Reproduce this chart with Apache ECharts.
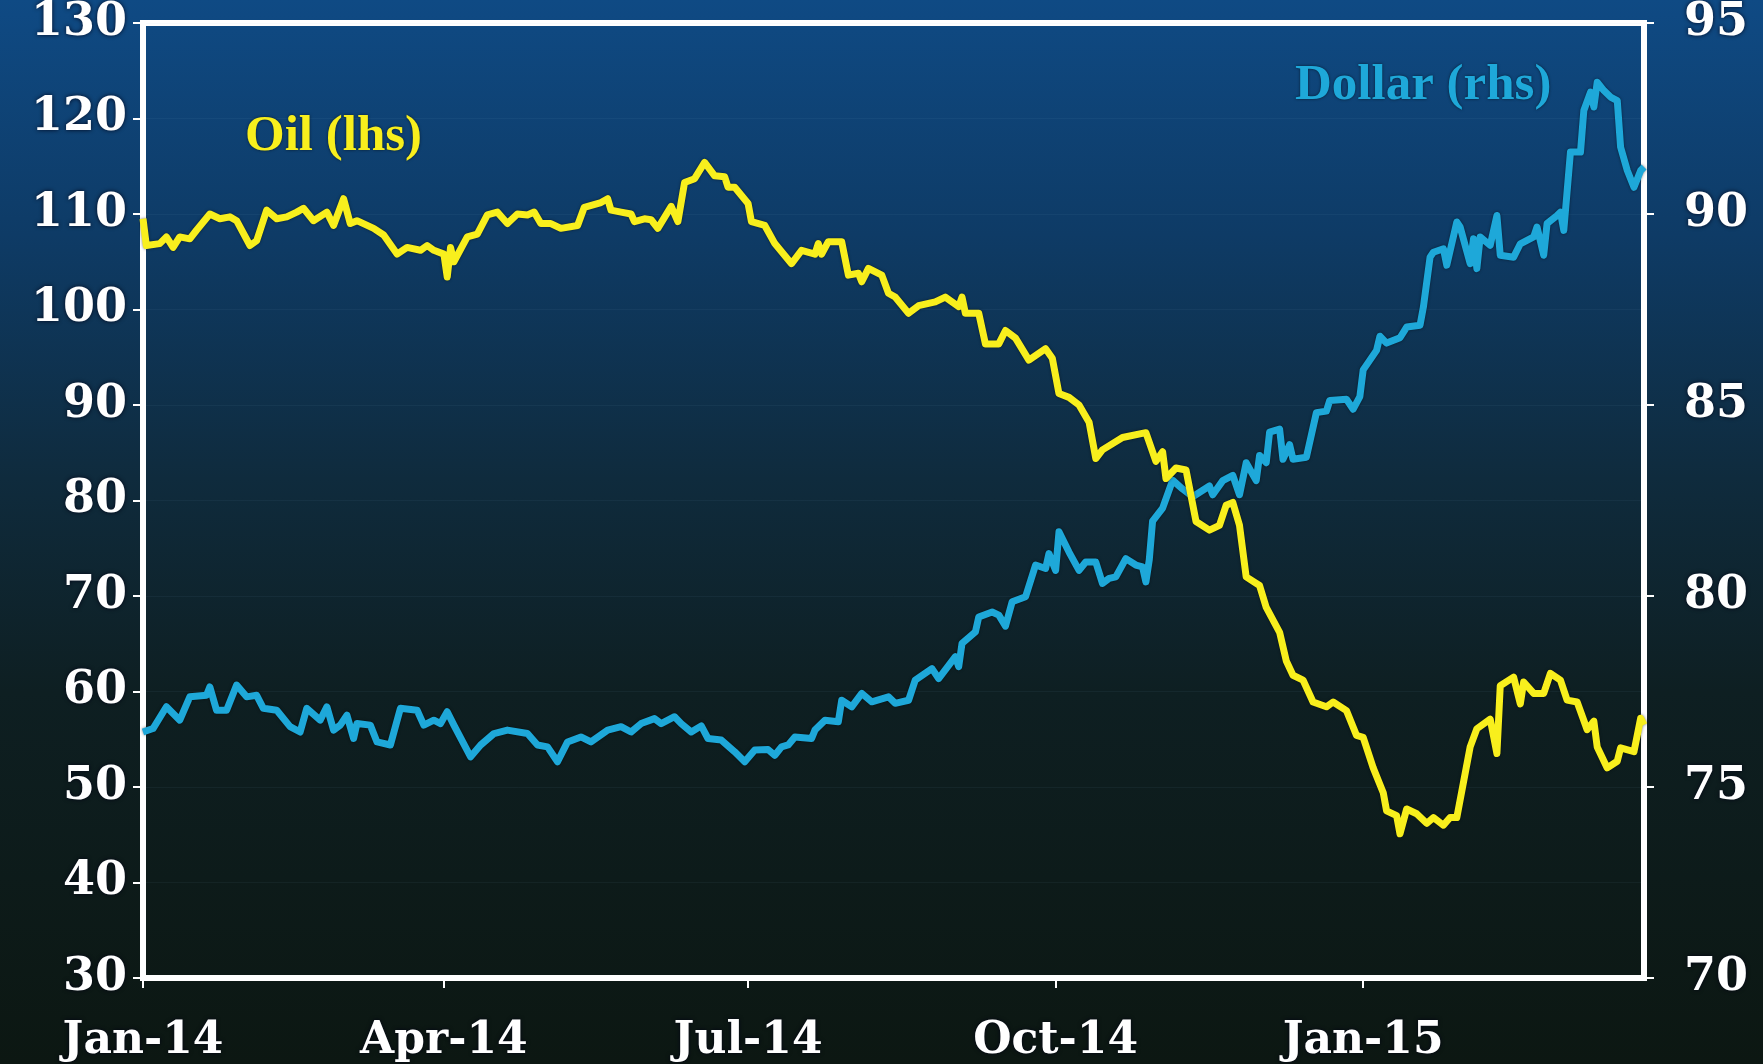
<!DOCTYPE html>
<html>
<head>
<meta charset="utf-8">
<script src="https://cdn.jsdelivr.net/npm/echarts@6/dist/echarts.min.js"></script>
<style>
html,body{margin:0;padding:0;background:#0c1712;}
#chart{width:1763px;height:1064px;}
</style>
</head>
<body>
<div id="chart"></div>
<script>
// ---- Data ----
const oilDates = ['2014-01-01','2014-01-02','2014-01-06','2014-01-08','2014-01-10','2014-01-12','2014-01-15','2014-01-17','2014-01-21','2014-01-24','2014-01-27','2014-01-29','2014-02-02','2014-02-04','2014-02-07','2014-02-10','2014-02-13','2014-02-16','2014-02-18','2014-02-21','2014-02-25','2014-02-27','2014-03-02','2014-03-04','2014-03-06','2014-03-11','2014-03-14','2014-03-18','2014-03-21','2014-03-25','2014-03-27','2014-03-29','2014-04-01','2014-04-02','2014-04-03','2014-04-04','2014-04-08','2014-04-11','2014-04-14','2014-04-17','2014-04-20','2014-04-23','2014-04-26','2014-04-28','2014-04-30','2014-05-03','2014-05-06','2014-05-11','2014-05-13','2014-05-18','2014-05-20','2014-05-21','2014-05-24','2014-05-27','2014-05-28','2014-05-31','2014-06-02','2014-06-04','2014-06-08','2014-06-10','2014-06-12','2014-06-15','2014-06-18','2014-06-21','2014-06-24','2014-06-25','2014-06-27','2014-07-01','2014-07-02','2014-07-06','2014-07-09','2014-07-14','2014-07-17','2014-07-21','2014-07-22','2014-07-23','2014-07-25','2014-07-29','2014-07-31','2014-08-03','2014-08-04','2014-08-06','2014-08-10','2014-08-12','2014-08-14','2014-08-18','2014-08-21','2014-08-26','2014-08-29','2014-09-02','2014-09-03','2014-09-04','2014-09-08','2014-09-10','2014-09-14','2014-09-16','2014-09-19','2014-09-23','2014-09-28','2014-09-30','2014-10-02','2014-10-05','2014-10-08','2014-10-11','2014-10-13','2014-10-15','2014-10-21','2014-10-28','2014-10-31','2014-11-02','2014-11-03','2014-11-06','2014-11-09','2014-11-12','2014-11-16','2014-11-19','2014-11-21','2014-11-23','2014-11-25','2014-11-27','2014-12-01','2014-12-03','2014-12-07','2014-12-09','2014-12-11','2014-12-14','2014-12-17','2014-12-21','2014-12-23','2014-12-27','2014-12-30','2015-01-01','2015-01-04','2015-01-07','2015-01-08','2015-01-11','2015-01-12','2015-01-14','2015-01-17','2015-01-20','2015-01-22','2015-01-25','2015-01-27','2015-01-29','2015-02-02','2015-02-04','2015-02-08','2015-02-10','2015-02-11','2015-02-15','2015-02-17','2015-02-18','2015-02-21','2015-02-24','2015-02-26','2015-03-01','2015-03-03','2015-03-06','2015-03-09','2015-03-11','2015-03-12','2015-03-15','2015-03-18','2015-03-19','2015-03-23','2015-03-25','2015-03-26'];
const oilValues = [109.5,106.7,106.9,107.6,106.5,107.6,107.4,108.3,110.0,109.5,109.7,109.3,106.7,107.2,110.4,109.5,109.7,110.2,110.6,109.3,110.2,108.8,111.6,109.0,109.3,108.5,107.8,105.8,106.5,106.2,106.7,106.2,105.8,103.4,106.5,105.0,107.6,107.9,109.9,110.2,109.0,110.0,109.9,110.2,109.0,109.0,108.5,108.8,110.7,111.2,111.6,110.4,110.2,110.0,109.2,109.5,109.4,108.5,110.8,109.2,113.3,113.7,115.4,114.0,113.9,112.8,112.8,111.1,109.2,108.8,106.9,104.8,106.2,105.8,106.9,105.8,107.1,107.1,103.6,103.8,102.9,104.3,103.6,101.7,101.3,99.6,100.4,100.8,101.3,100.3,101.3,99.6,99.6,96.4,96.4,97.8,97.0,94.7,95.9,94.9,91.2,90.8,90.0,88.2,84.4,85.3,86.6,87.1,84.1,85.1,82.3,83.4,83.2,77.8,76.9,77.4,79.5,79.8,77.4,72.0,71.1,68.8,66.2,63.2,61.7,61.2,58.9,58.4,58.9,58.0,55.4,55.2,52.0,49.4,47.5,47.0,45.1,47.7,47.2,46.2,46.8,46.0,46.8,46.8,54.2,56.1,57.1,53.5,60.6,61.5,58.7,61.0,59.8,59.8,61.9,61.2,59.1,58.9,56.0,56.9,54.2,52.0,52.7,54.1,53.7,57.2,56.5];

const usdDates = ['2014-01-01','2014-01-04','2014-01-08','2014-01-12','2014-01-15','2014-01-20','2014-01-21','2014-01-23','2014-01-26','2014-01-29','2014-02-01','2014-02-04','2014-02-06','2014-02-10','2014-02-14','2014-02-17','2014-02-19','2014-02-23','2014-02-25','2014-02-27','2014-03-01','2014-03-03','2014-03-05','2014-03-06','2014-03-10','2014-03-12','2014-03-16','2014-03-19','2014-03-24','2014-03-26','2014-03-29','2014-03-31','2014-04-02','2014-04-04','2014-04-09','2014-04-12','2014-04-16','2014-04-20','2014-04-26','2014-04-29','2014-05-02','2014-05-05','2014-05-08','2014-05-12','2014-05-15','2014-05-20','2014-05-24','2014-05-27','2014-05-30','2014-06-03','2014-06-05','2014-06-09','2014-06-11','2014-06-14','2014-06-17','2014-06-19','2014-06-23','2014-06-27','2014-06-30','2014-07-03','2014-07-07','2014-07-09','2014-07-11','2014-07-13','2014-07-15','2014-07-20','2014-07-21','2014-07-24','2014-07-28','2014-07-29','2014-08-01','2014-08-04','2014-08-07','2014-08-12','2014-08-14','2014-08-18','2014-08-20','2014-08-25','2014-08-27','2014-09-01','2014-09-02','2014-09-03','2014-09-07','2014-09-08','2014-09-12','2014-09-14','2014-09-16','2014-09-18','2014-09-22','2014-09-25','2014-09-28','2014-09-29','2014-10-01','2014-10-02','2014-10-05','2014-10-08','2014-10-10','2014-10-13','2014-10-15','2014-10-17','2014-10-19','2014-10-22','2014-10-25','2014-10-27','2014-10-28','2014-10-29','2014-10-30','2014-11-02','2014-11-05','2014-11-08','2014-11-11','2014-11-16','2014-11-17','2014-11-20','2014-11-23','2014-11-25','2014-11-27','2014-11-30','2014-12-01','2014-12-03','2014-12-04','2014-12-07','2014-12-08','2014-12-10','2014-12-11','2014-12-15','2014-12-18','2014-12-21','2014-12-22','2014-12-27','2014-12-29','2014-12-31','2015-01-01','2015-01-05','2015-01-06','2015-01-08','2015-01-12','2015-01-14','2015-01-18','2015-01-19','2015-01-21','2015-01-22','2015-01-25','2015-01-26','2015-01-29','2015-01-30','2015-02-02','2015-02-03','2015-02-04','2015-02-05','2015-02-08','2015-02-10','2015-02-11','2015-02-15','2015-02-17','2015-02-21','2015-02-22','2015-02-24','2015-02-25','2015-02-28','2015-03-01','2015-03-02','2015-03-04','2015-03-07','2015-03-08','2015-03-10','2015-03-11','2015-03-12','2015-03-14','2015-03-16','2015-03-18','2015-03-19','2015-03-21','2015-03-23','2015-03-25','2015-03-26'];
const usdValues = [76.44,76.53,77.1,76.75,77.36,77.4,77.62,77.01,77.01,77.67,77.36,77.4,77.06,77.01,76.58,76.44,77.06,76.75,77.1,76.49,76.62,76.88,76.27,76.66,76.62,76.18,76.1,77.06,77.01,76.62,76.75,76.66,76.97,76.62,75.79,76.1,76.4,76.49,76.4,76.1,76.05,75.66,76.18,76.31,76.18,76.49,76.58,76.44,76.66,76.79,76.66,76.84,76.66,76.44,76.6,76.27,76.23,75.92,75.66,75.97,75.98,75.83,76.05,76.1,76.31,76.27,76.49,76.75,76.71,77.27,77.1,77.45,77.23,77.36,77.19,77.27,77.8,78.1,77.84,78.41,78.15,78.76,79.06,79.45,79.58,79.5,79.21,79.85,79.98,80.81,80.72,81.11,80.67,81.68,81.15,80.67,80.89,80.89,80.33,80.46,80.5,80.98,80.81,80.76,80.37,80.94,81.96,82.3,83.03,82.8,82.6,82.88,82.65,83.02,83.16,82.65,83.49,83.02,83.68,83.49,84.29,84.37,83.58,83.96,83.58,83.63,84.8,84.84,85.12,85.15,84.89,85.22,85.92,86.43,86.8,86.62,86.76,87.04,87.09,87.56,88.87,89.0,89.09,88.66,89.79,89.66,88.7,89.35,88.57,89.4,89.18,89.96,88.92,88.87,89.22,89.4,89.66,88.92,89.75,89.96,90.05,89.57,91.62,91.62,92.71,93.19,92.8,93.45,93.23,93.06,92.97,91.75,91.14,90.7,91.14,91.23];

const xTickDates = ['2014-01-01','2014-04-01','2014-07-01','2014-10-01','2015-01-01'];
const xTickLabels = ['Jan-14','Apr-14','Jul-14','Oct-14','Jan-15'];
const xStart = '2014-01-01';
const xEnd = '2015-03-26';
const oilLabel = 'Oil (lhs)';
const usdLabel = 'Dollar (rhs)';

// ---- Build ----
const ts = s => { const p = s.split('-').map(Number); return Date.UTC(p[0], p[1]-1, p[2]); };
const oilData = oilDates.map((d,i)=>[ts(d), oilValues[i]]);
const usdData = usdDates.map((d,i)=>[ts(d), usdValues[i]]);
const tickTs = xTickDates.map(ts);
const labelFor = v => { let best = 0, bd = Infinity; tickTs.forEach((t,i)=>{ const d = Math.abs(t - v); if (d < bd) { bd = d; best = i; } }); return bd < 86400000 ? xTickLabels[best] : ''; };

const chart = echarts.init(document.getElementById('chart'), null, {renderer:'canvas'});
const axisFont = {
  color:'#ffffff', fontFamily:'"DejaVu Serif", serif', fontWeight:'bold',
  textShadowColor:'rgba(0,0,20,0.9)', textShadowBlur:4
};
chart.setOption({
  animation:false,
  backgroundColor:{type:'linear',x:0,y:0,x2:0,y2:1,colorStops:[
    {offset:0,color:'#0f4a84'},{offset:0.22,color:'#0e3b66'},{offset:0.45,color:'#0f2b3d'},
    {offset:0.65,color:'#0e1f22'},{offset:1,color:'#0c1712'}]},
  grid:{left:143,right:119,top:21,bottom:86,show:true,borderColor:'#ffffff',borderWidth:6,backgroundColor:'transparent'},
  xAxis:{
    type:'value', min:ts(xStart), max:ts(xEnd), scale:true,
    axisLine:{show:true,onZero:false,lineStyle:{color:'#ffffff',width:6}},
    axisTick:{show:true,length:10,lineStyle:{color:'#ffffff',width:2},customValues:tickTs},
    axisLabel:Object.assign({fontSize:44,margin:42,customValues:tickTs,
      formatter:(v)=>labelFor(v)},axisFont),
    splitLine:{show:false}
  },
  yAxis:[{
    type:'value', min:30, max:130, interval:10, position:'left',
    axisLine:{show:true,lineStyle:{color:'#ffffff',width:6}},
    axisTick:{show:true,length:10,lineStyle:{color:'#ffffff',width:2}},
    axisLabel:Object.assign({fontSize:46,margin:16},axisFont),
    splitLine:{show:true,lineStyle:{color:'rgba(140,190,220,0.06)',width:1}}
  },{
    type:'value', min:70, max:95, interval:5, position:'right',
    axisLine:{show:true,lineStyle:{color:'#ffffff',width:6}},
    axisTick:{show:true,length:10,lineStyle:{color:'#ffffff',width:2}},
    axisLabel:Object.assign({fontSize:46,margin:40},axisFont),
    splitLine:{show:false}
  }],
  series:[{
    name:oilLabel,type:'line',yAxisIndex:0,data:oilData,showSymbol:false,
    lineStyle:{color:'#f8ef1d',width:7,join:'round',shadowColor:'rgba(0,0,0,0.5)',shadowBlur:3},
    itemStyle:{color:'#f8ef1d'},z:3
  },{
    name:usdLabel,type:'line',yAxisIndex:1,data:usdData,showSymbol:false,
    lineStyle:{color:'#1ea8d9',width:7,join:'round',shadowColor:'rgba(0,0,0,0.5)',shadowBlur:3},
    itemStyle:{color:'#1ea8d9'},z:2
  }],
  graphic:[{
    type:'text',left:245,top:111,z:10,
    style:{text:oilLabel,fill:'#f8ef1d',font:'bold 51px "Liberation Serif", serif',
      textShadowColor:'rgba(0,0,0,0.6)',textShadowBlur:3}
  },{
    type:'text',left:1295,top:60,z:10,
    style:{text:usdLabel,fill:'#1ea8d9',font:'bold 51px "Liberation Serif", serif',
      textShadowColor:'rgba(0,0,0,0.6)',textShadowBlur:3}
  }]
});
</script>
</body>
</html>
